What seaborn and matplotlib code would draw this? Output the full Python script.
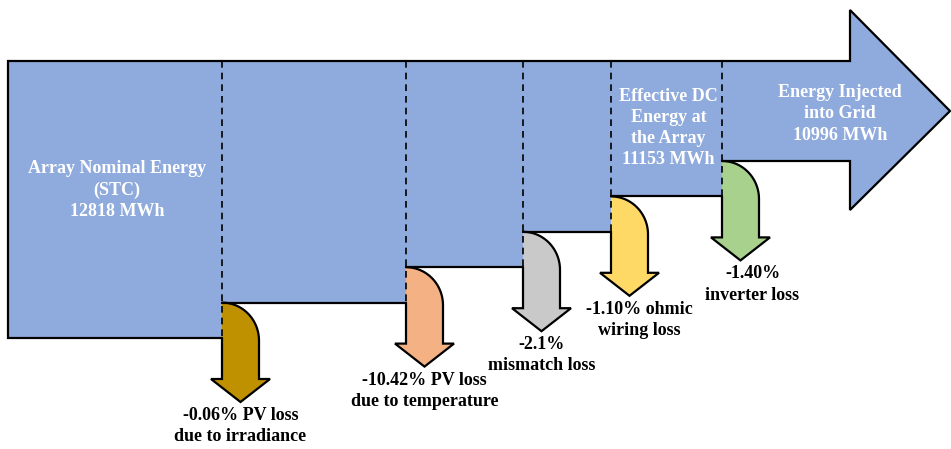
import numpy as np
import matplotlib.pyplot as plt
import seaborn as sns
from matplotlib.patches import Polygon

# dati del diagramma
energy_labels = ["Array Nominal Energy\n(STC)\n12818 MWh",
                 "Effective DC\nEnergy at\nthe Array\n11153 MWh",
                 "Energy Injected\ninto Grid\n10996 MWh"]
loss_labels = ["-0.06% PV loss\ndue to irradiance",
               "-10.42% PV loss\ndue to temperature",
               "-2.1%\nmismatch loss",
               "-1.10% ohmic\nwiring loss",
               "-1.40%\ninverter loss"]
loss_colors = ["#BF9000", "#F4B183", "#C9C9C9", "#FFD966", "#A9D18E"]

sns.set_theme(style="white")
plt.rcParams['font.family'] = ['Liberation Serif', 'DejaVu Serif']

BLUE = "#8FAADC"
LW = 1.6
FS = 13
LS = 1.32

# layout (pixel)
x_left = 8
y_top = 61
step_x = [222, 406, 523, 611, 722]
first_bottom = 338
drop = 35.4
bottoms = [first_bottom - drop * i for i in range(6)]
shaft_end, head_top, head_bot, tip_x = 850, 10, 210, 950
label_dx = [0, 0, 0, 10, 12]

fig = plt.figure(figsize=(9.51, 4.49), dpi=100)
ax = fig.add_axes([0, 0, 1, 1])
ax.set_xlim(0, 951)
ax.set_ylim(449, 0)
ax.axis('off')

# corpo principale (scalini + freccia)
pts = [(x_left, y_top), (shaft_end, y_top), (shaft_end, head_top),
       (tip_x, (y_top + bottoms[-1]) / 2), (shaft_end, head_bot),
       (shaft_end, bottoms[-1])]
for i in range(len(step_x) - 1, -1, -1):
    pts.append((step_x[i], bottoms[i + 1]))
    pts.append((step_x[i], bottoms[i]))
pts.append((x_left, bottoms[0]))
ax.add_patch(Polygon(pts, closed=True, facecolor=BLUE, edgecolor='none', zorder=1))

outline = [(step_x[-1], bottoms[-1]), (shaft_end, bottoms[-1]), (shaft_end, head_bot),
           (tip_x, (y_top + bottoms[-1]) / 2), (shaft_end, head_top),
           (shaft_end, y_top), (x_left, y_top), (x_left, bottoms[0]), (step_x[0], bottoms[0])]
ax.plot(*zip(*outline), color='black', lw=LW, zorder=3, solid_joinstyle='miter')
for i in range(len(step_x) - 1):
    ax.plot([step_x[i], step_x[i + 1]], [bottoms[i + 1]] * 2, color='black', lw=LW, zorder=3)

# frecce delle perdite
w, r, shaft, hh, dx = 37, 38, 41, 23, 11
for i, x0 in enumerate(step_x):
    yt, yb = bottoms[i + 1], bottoms[i]
    yh = yb + shaft
    t = np.linspace(np.pi / 2, 0, 30)
    arc = list(zip(x0 + w * np.sin(t), yt + r - r * np.cos(t)))
    cx = x0 + w / 2
    path = [(x0, yb), (x0, yh), (x0 - dx, yh), (cx, yh + hh),
            (x0 + w + dx, yh), (x0 + w, yh)] + arc
    ax.add_patch(Polygon(path + [(x0, yt)], closed=True, facecolor=loss_colors[i],
                         edgecolor='none', zorder=2))
    ax.plot(*zip(*path), color='black', lw=LW, zorder=3, solid_joinstyle='miter')
    # linea tratteggiata
    ax.plot([x0, x0], [y_top, yb], color='black', lw=1.2, ls=(0, (4, 3)), zorder=4)
    ax.text(cx + label_dx[i], yh + hh + 5, loss_labels[i], ha='center', va='top',
            fontsize=FS, fontweight='bold', color='black', linespacing=LS)

# etichette energia
ax.text((x_left + step_x[0]) / 2 + 2, 190, energy_labels[0], ha='center', va='center',
        fontsize=FS, fontweight='bold', color='white', linespacing=LS, zorder=5)
ax.text((step_x[3] + step_x[4]) / 2 + 2, 128, energy_labels[1], ha='center', va='center',
        fontsize=FS, fontweight='bold', color='white', linespacing=LS, zorder=5)
ax.text(840, 114, energy_labels[2], ha='center', va='center',
        fontsize=FS, fontweight='bold', color='white', linespacing=LS, zorder=5)

fig.savefig('out.png', dpi=100)
